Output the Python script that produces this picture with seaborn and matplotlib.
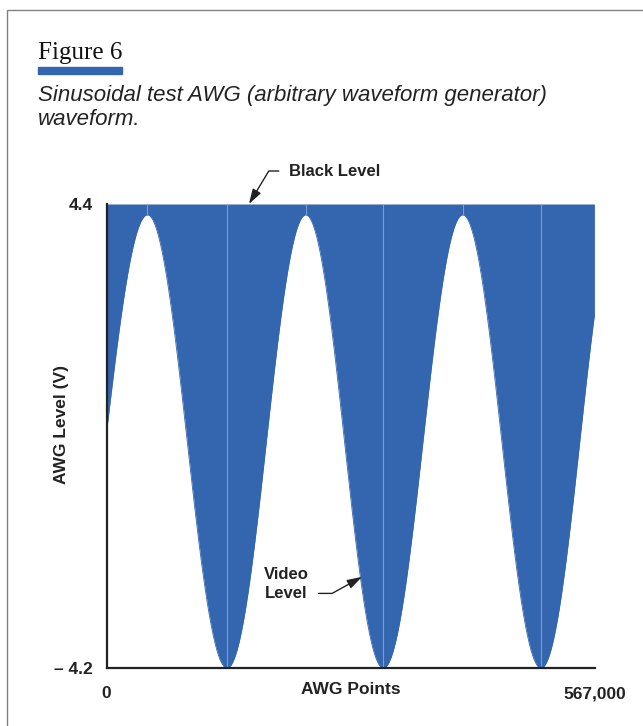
import numpy as np
import pandas as pd
import matplotlib
matplotlib.use("Agg")
import matplotlib.pyplot as plt
from matplotlib.patches import Rectangle
import seaborn as sns

# Waveform turning points (AWG point index, level in volts); the first and
# last lie just outside the plotted record and set the shape at its edges.
extrema_points = [-50000, 47600, 140000, 231500, 321600, 413900, 504800, 595000]
extrema_levels = [-4.2, 4.2, -4.2, 4.2, -4.2, 4.2, -4.2, 4.2]

record_length = 567000
black_level = 4.4
video_floor = -4.2

x_ticks = [0, record_length]
x_tick_labels = ["0", "567,000"]
y_ticks = [video_floor, black_level]
y_tick_labels = ["\u2013 4.2", "4.4"]

BLUE = "#3466AF"
SEAM = "#7A9BD3"
INK = "#222222"

sns.set_theme(style="white")
NARROW = ["Liberation Sans Narrow", "Liberation Sans", "DejaVu Sans"]
plt.rcParams["font.family"] = NARROW

fig = plt.figure(figsize=(6.43, 7.26), dpi=100)
W, H = 643, 726
ax = fig.add_axes([106.5 / W, 1 - 668 / H, 488 / W, 464 / H])

# Build each half-cycle between neighbouring turning points
segments = []
for x0, x1, v0, v1 in zip(extrema_points[:-1], extrema_points[1:],
                          extrema_levels[:-1], extrema_levels[1:]):
    t = np.linspace(0, 1, 200)
    xs = x0 + (x1 - x0) * t
    vs = v0 + (v1 - v0) * (1 - np.cos(np.pi * t)) / 2
    keep = (xs >= 0) & (xs <= record_length)
    if keep.sum() > 1:
        segments.append(pd.DataFrame({"point": xs[keep], "level": vs[keep]}))

for seg in segments:
    ax.fill_between(seg["point"], seg["level"], black_level, color=BLUE,
                    linewidth=0, antialiased=True)
    sns.lineplot(data=seg, x="point", y="level", ax=ax, color=BLUE,
                 linewidth=0.6, estimator=None, sort=False)

# faint seams where the half-cycles meet
inner = [(x, v) for x, v in zip(extrema_points, extrema_levels)
         if 0 < x < record_length]
ax.vlines([x for x, _ in inner], [v for _, v in inner], black_level,
          color=SEAM, linewidth=0.8)

ax.set_xlim(0, record_length)
ax.set_ylim(video_floor, black_level)
ax.set_xticks(x_ticks)
ax.set_xticklabels(x_tick_labels)
ax.set_yticks(y_ticks)
ax.set_yticklabels(y_tick_labels)
for side in ("top", "right"):
    ax.spines[side].set_visible(False)
for side in ("left", "bottom"):
    ax.spines[side].set_color(INK)
    ax.spines[side].set_linewidth(1.6)
ax.tick_params(axis="both", direction="inout", length=12, width=1.3,
               color=INK, labelcolor=INK, labelsize=12.5)
ax.tick_params(axis="x", pad=7)
ax.tick_params(axis="y", pad=4)
for lab in ax.get_xticklabels() + ax.get_yticklabels():
    lab.set_fontweight("bold")
ax.set_facecolor("white")

ax.set_xlabel("AWG Points", fontsize=12.5, fontweight="bold", color=INK,
              va="top")
ax.xaxis.set_label_coords(0.5, -0.031)
ax.set_ylabel("AWG Level (V)", fontsize=12.5, fontweight="bold", color=INK,
              va="center")
ax.yaxis.set_label_coords(-0.093, 0.525)

head = "-|>,head_length=0.9,head_width=0.28"
ax.annotate("Black Level", xy=(165500, black_level),
            xytext=(289 / W, 1 - 171 / H), textcoords="figure fraction",
            ha="left", va="center", fontsize=12, fontweight="bold",
            color=INK,
            arrowprops=dict(arrowstyle=head, color=INK, lw=1.0,
                            mutation_scale=10, relpos=(0, 0.5),
                            shrinkA=5, shrinkB=0,
                            connectionstyle="angle,angleA=0,angleB=59,rad=0"))
ax.annotate("Video\nLevel", xy=(296900, -2.51),
            xytext=(286 / W, 1 - 584 / H), textcoords="figure fraction",
            ha="center", va="center", multialignment="center",
            fontsize=12, fontweight="bold", color=INK, linespacing=1.3,
            arrowprops=dict(arrowstyle=head, color=INK, lw=1.0,
                            mutation_scale=10, relpos=(1, 0.22),
                            shrinkA=5, shrinkB=0,
                            connectionstyle="angle,angleA=0,angleB=29,rad=0"))

# Panel frame, heading, rule and caption
fig.add_artist(Rectangle((7 / W, -0.1), 1.2, (H - 10) / H + 0.1, fill=False,
                         edgecolor="#808080", linewidth=1.0,
                         transform=fig.transFigure))
fig.text(38 / W, 1 - 59 / H, "Figure 6", family="Liberation Serif",
         fontsize=18, color="#111111", va="baseline")
fig.add_artist(Rectangle((38 / W, 1 - 74 / H), 84 / W, 7 / H, color=BLUE,
                         transform=fig.transFigure))
fig.text(38 / W, 1 - 101 / H,
         "Sinusoidal test AWG (arbitrary waveform generator)",
         fontsize=16, style="italic", color="#222222", va="baseline")
fig.text(38 / W, 1 - 125 / H, "waveform.", fontsize=16, style="italic",
         color="#222222", va="baseline")

fig.savefig("out.png", dpi=100, facecolor="white")
